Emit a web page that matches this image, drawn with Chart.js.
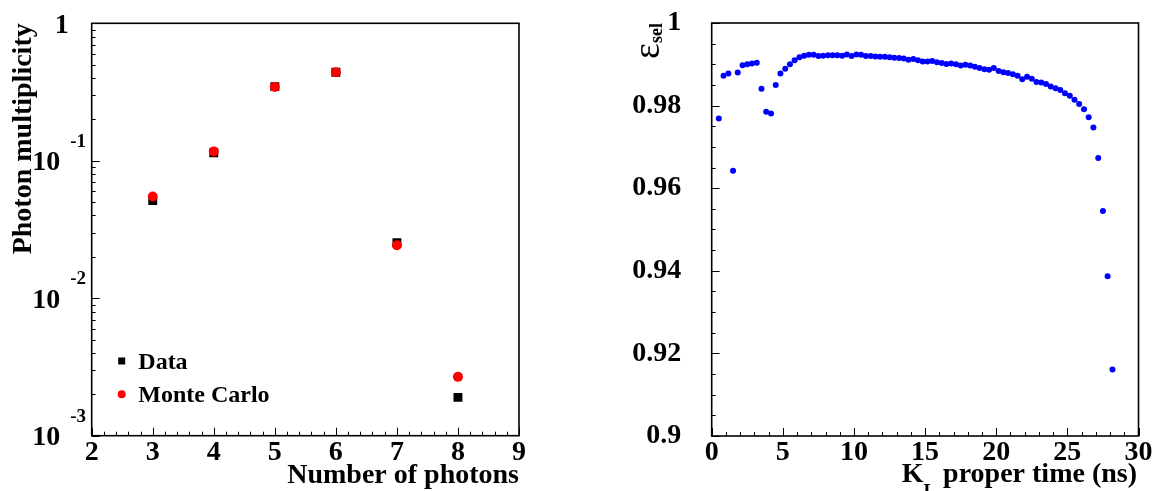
<!DOCTYPE html>
<html>
<head>
<meta charset="utf-8">
<script src="https://cdn.jsdelivr.net/npm/chart.js@4.4.1/dist/chart.umd.min.js"></script>
<style>
  html, body { margin: 0; padding: 0; background: #fff; }
  #wrap { position: relative; width: 1160px; height: 491px; }
  canvas { position: absolute; top: 0; }
  #left { left: 0; }
  #right { left: 580px; }
</style>
</head>
<body>
<div id="wrap">
  <canvas id="left" width="580" height="491"></canvas>
  <canvas id="right" width="580" height="491"></canvas>
</div>
<script>
// left panel: photon multiplicity
const nPhotons = [3, 4, 5, 6, 7, 8];
const dataMult = [0.0514, 0.1143, 0.346, 0.440, 0.0253, 0.00190];
const mcMult = [0.0550, 0.117, 0.344, 0.440, 0.0243, 0.00268];
const multTicks = [1, 0.1, 0.01, 0.001];

// right panel: selection efficiency vs K_L proper time (ns)
const properTime = [0.50, 0.83, 1.17, 1.50, 1.83, 2.17, 2.50, 2.83, 3.17, 3.50, 3.83, 4.17, 4.50, 4.83,
  5.17, 5.50, 5.83, 6.17, 6.50, 6.83, 7.17, 7.50, 7.83, 8.17, 8.50, 8.83, 9.17, 9.50, 9.83,
  10.17, 10.50, 10.83, 11.17, 11.50, 11.83, 12.17, 12.50, 12.83, 13.17, 13.50, 13.83, 14.17, 14.50, 14.83,
  15.17, 15.50, 15.83, 16.17, 16.50, 16.83, 17.17, 17.50, 17.83, 18.17, 18.50, 18.83, 19.17, 19.50, 19.83,
  20.17, 20.50, 20.83, 21.17, 21.50, 21.83, 22.17, 22.50, 22.83, 23.17, 23.50, 23.83, 24.17, 24.50, 24.83,
  25.17, 25.50, 25.83, 26.17, 26.50, 26.83, 27.17, 27.50, 27.83, 28.17];
const effSel = [0.9769, 0.9872, 0.9878, 0.9642, 0.9880, 0.9898, 0.9900, 0.9902, 0.9904, 0.9841, 0.9785, 0.9781, 0.9850, 0.9878,
  0.9889, 0.9900, 0.9910, 0.9917, 0.9921, 0.9923, 0.9923, 0.9920, 0.9921, 0.9922, 0.9922, 0.9922, 0.9921, 0.9924, 0.9920,
  0.9924, 0.9923, 0.9920, 0.9920, 0.9919, 0.9918, 0.9918, 0.9917, 0.9916, 0.9915, 0.9914, 0.9911, 0.9913, 0.9910, 0.9907,
  0.9907, 0.9908, 0.9905, 0.9903, 0.9901, 0.9902, 0.9900, 0.9897, 0.9899, 0.9897, 0.9894, 0.9891, 0.9888, 0.9887, 0.9891,
  0.9884, 0.9881, 0.9879, 0.9876, 0.9872, 0.9864, 0.9870, 0.9865, 0.9857, 0.9856, 0.9852, 0.9846, 0.9842, 0.9838, 0.9830,
  0.9824, 0.9814, 0.9804, 0.9791, 0.9772, 0.9747, 0.9673, 0.9545, 0.9387, 0.9161];

const SERIF = '"Liberation Serif", "Times New Roman", serif';
const bigFont = { family: SERIF, size: 28, weight: 'bold' };

// list tick values for the inward ROOT-style ticks
function tickList(scale, o) {
  const out = [];
  if (o.log) {
    const d0 = Math.floor(Math.log10(scale.min)), d1 = Math.ceil(Math.log10(scale.max));
    for (let d = d0; d <= d1; d++) {
      for (let m = 1; m <= 9; m++) {
        const v = m * Math.pow(10, d);
        if (v >= scale.min * 0.999 && v <= scale.max * 1.001) out.push([v, m === 1]);
      }
    }
  } else {
    const n = Math.round((scale.max - scale.min) / o.minor);
    const per = Math.round(o.major / o.minor);
    for (let k = 0; k <= n; k++) out.push([scale.min + k * o.minor, k % per === 0]);
  }
  return out;
}

const rootFrame = {
  id: 'rootFrame',
  beforeDatasetsDraw(chart, args, opts) {
    const ctx = chart.ctx, a = chart.chartArea;
    const xs = chart.scales.x, ys = chart.scales.y;
    ctx.save();
    ctx.strokeStyle = '#000';
    ctx.lineWidth = 1;
    ctx.beginPath();
    tickList(xs, opts.x).forEach(([v, major]) => {
      const px = Math.round(xs.getPixelForValue(v)) + 0.5;
      ctx.moveTo(px, a.bottom);
      ctx.lineTo(px, a.bottom - (major ? 8 : 4));
    });
    tickList(ys, opts.y).forEach(([v, major]) => {
      const py = Math.round(ys.getPixelForValue(v)) + 0.5;
      ctx.moveTo(a.left, py);
      ctx.lineTo(a.left + (major ? 8 : 4), py);
    });
    ctx.stroke();
    ctx.restore();
  },
  afterDatasetsDraw(chart) {
    const ctx = chart.ctx, a = chart.chartArea;
    ctx.save();
    ctx.strokeStyle = '#000';
    ctx.lineWidth = 1.6;
    ctx.strokeRect(a.left, a.top, a.right - a.left, a.bottom - a.top);
    ctx.restore();
  }
};

// "1", "10^-1" ... labels for the log axis
const logLabels = {
  id: 'logLabels',
  afterDraw(chart) {
    const ys = chart.scales.y, a = chart.chartArea, ctx = chart.ctx;
    ctx.save();
    ctx.fillStyle = '#000';
    ctx.textBaseline = 'alphabetic';
    multTicks.forEach(v => {
      const py = ys.getPixelForValue(v);
      const exp = Math.round(Math.log10(v));
      ctx.font = 'bold 28px ' + SERIF;
      ctx.textAlign = 'right';
      if (exp === 0) {
        ctx.fillText('1', a.left - 23, py + 9.5);
      } else {
        ctx.fillText('10', a.left - 31.5, py + 9.5);
        ctx.font = 'bold 19px ' + SERIF;
        ctx.textAlign = 'left';
        ctx.fillText(String(exp), a.left - 21.5, py - 14);
      }
    });
    ctx.restore();
  }
};

const insideLegend = {
  id: 'insideLegend',
  afterDraw(chart, args, o) {
    const ctx = chart.ctx, a = chart.chartArea;
    ctx.save();
    chart.data.datasets.forEach((ds, i) => {
      const x = a.left + o.left, y = a.top + o.top + i * o.rowGap;
      ctx.fillStyle = ds.backgroundColor;
      if (ds.pointStyle === 'rect') {
        ctx.fillRect(x - 3.5, y - 3.5, 7, 7);
      } else {
        ctx.beginPath();
        ctx.arc(x, y, 4, 0, 2 * Math.PI);
        ctx.fill();
      }
      ctx.fillStyle = '#000';
      ctx.font = 'bold 24px ' + SERIF;
      ctx.textAlign = 'left';
      ctx.textBaseline = 'alphabetic';
      ctx.fillText(ds.label, x + 16.6, y + 8);
    });
    ctx.restore();
  }
};

// axis titles with subscripts for the right panel
const richTitles = {
  id: 'richTitles',
  afterDraw(chart) {
    const ctx = chart.ctx, a = chart.chartArea;
    const big = 'bold 28px ' + SERIF, sub = 'bold 19px ' + SERIF;
    ctx.save();
    ctx.fillStyle = '#000';
    ctx.textBaseline = 'alphabetic';
    ctx.textAlign = 'left';

    ctx.font = big;
    const wK = ctx.measureText('K').width;
    const wRest = ctx.measureText(' proper time (ns)').width;
    ctx.font = sub;
    const wL = ctx.measureText('L').width;
    let x = a.right - 1.5 - (wK + wL + wRest);
    const base = chart.height - 9.3;
    ctx.font = big; ctx.fillText('K', x, base); x += wK;
    ctx.font = sub; ctx.fillText('L', x, base + 15); x += wL;
    ctx.font = big; ctx.fillText(' proper time (ns)', x, base);

    const epsFont = '38px ' + SERIF, selFont = 'bold 18px ' + SERIF;
    ctx.font = epsFont;
    const wE = ctx.measureText('ε').width;
    ctx.font = selFont;
    const wS = ctx.measureText('sel').width;
    ctx.translate(a.left - 52.4, a.top + wE + wS);
    ctx.rotate(-Math.PI / 2);
    ctx.font = epsFont; ctx.fillText('ε', 0, 0);
    ctx.font = selFont; ctx.fillText('sel', wE, 2.5);
    ctx.restore();
  }
};

// keep the plot frame where the layout puts it: no extra room for edge labels
function fitX(h) {
  return s => { s.height = h; s.paddingLeft = 0; s.paddingRight = 0; };
}
function fitY(w) {
  return s => { s.width = w; s.paddingTop = 0; s.paddingBottom = 0; };
}

new Chart(document.getElementById('left'), {
  type: 'scatter',
  data: {
    datasets: [
      {
        label: 'Data',
        data: nPhotons.map((n, i) => ({ x: n, y: dataMult[i] })),
        pointStyle: 'rect', pointRadius: 6.3, borderWidth: 0,
        backgroundColor: '#000000', borderColor: '#000000', order: 2
      },
      {
        label: 'Monte Carlo',
        data: nPhotons.map((n, i) => ({ x: n, y: mcMult[i] })),
        pointStyle: 'circle', pointRadius: 5, borderWidth: 0,
        backgroundColor: '#ff0000', borderColor: '#ff0000', order: 1
      }
    ]
  },
  options: {
    responsive: false, animation: false, devicePixelRatio: 1, events: [],
    layout: { padding: { top: 23.3, right: 61, left: 0, bottom: 0 } },
    plugins: {
      legend: { display: false }, tooltip: { enabled: false },
      rootFrame: { x: { minor: 0.2, major: 1 }, y: { log: true } },
      insideLegend: { left: 30, top: 337.7, rowGap: 33.3 }
    },
    scales: {
      x: {
        type: 'linear', min: 2, max: 9,
        grid: { display: false }, border: { display: false },
        ticks: { stepSize: 1, autoSkip: false, padding: -5, color: '#000', maxRotation: 0,
          font: { family: SERIF, size: 28, weight: 'bold', lineHeight: 1 } },
        title: { display: true, text: 'Number of photons', align: 'end', color: '#000', font: bigFont, padding: -2 },
        afterFit: fitX(55.3)
      },
      y: {
        type: 'logarithmic', min: 0.001, max: 1,
        grid: { display: false }, border: { display: false },
        ticks: { display: false },
        title: { display: true, text: 'Photon multiplicity', align: 'end', color: '#000', font: bigFont, padding: 7 },
        afterFit: fitY(91.7)
      }
    }
  },
  plugins: [rootFrame, logLabels, insideLegend]
});

new Chart(document.getElementById('right'), {
  type: 'scatter',
  data: {
    datasets: [{
      label: 'efficiency',
      data: properTime.map((t, i) => ({ x: t, y: effSel[i] })),
      pointStyle: 'circle', pointRadius: 3, borderWidth: 0,
      backgroundColor: '#0000ff', borderColor: '#0000ff'
    }]
  },
  options: {
    responsive: false, animation: false, devicePixelRatio: 1, events: [],
    layout: { padding: { top: 23, right: 21.5, left: 0, bottom: 0 } },
    plugins: {
      legend: { display: false }, tooltip: { enabled: false },
      rootFrame: { x: { minor: 1, major: 5 }, y: { minor: 0.005, major: 0.02 } }
    },
    scales: {
      x: {
        type: 'linear', min: 0, max: 30,
        grid: { display: false }, border: { display: false },
        ticks: { stepSize: 5, autoSkip: false, padding: -5, color: '#000', maxRotation: 0,
          font: { family: SERIF, size: 28, weight: 'bold', lineHeight: 1 } },
        afterFit: fitX(55)
      },
      y: {
        type: 'linear', min: 0.9, max: 1,
        grid: { display: false }, border: { display: false },
        ticks: { stepSize: 0.02, autoSkip: false, padding: 22.4, color: '#000',
          font: { family: SERIF, size: 28, weight: 'bold' },
          callback: v => String(+v.toFixed(2)) },
        afterFit: fitY(131.7)
      }
    }
  },
  plugins: [rootFrame, richTitles]
});
</script>
</body>
</html>
